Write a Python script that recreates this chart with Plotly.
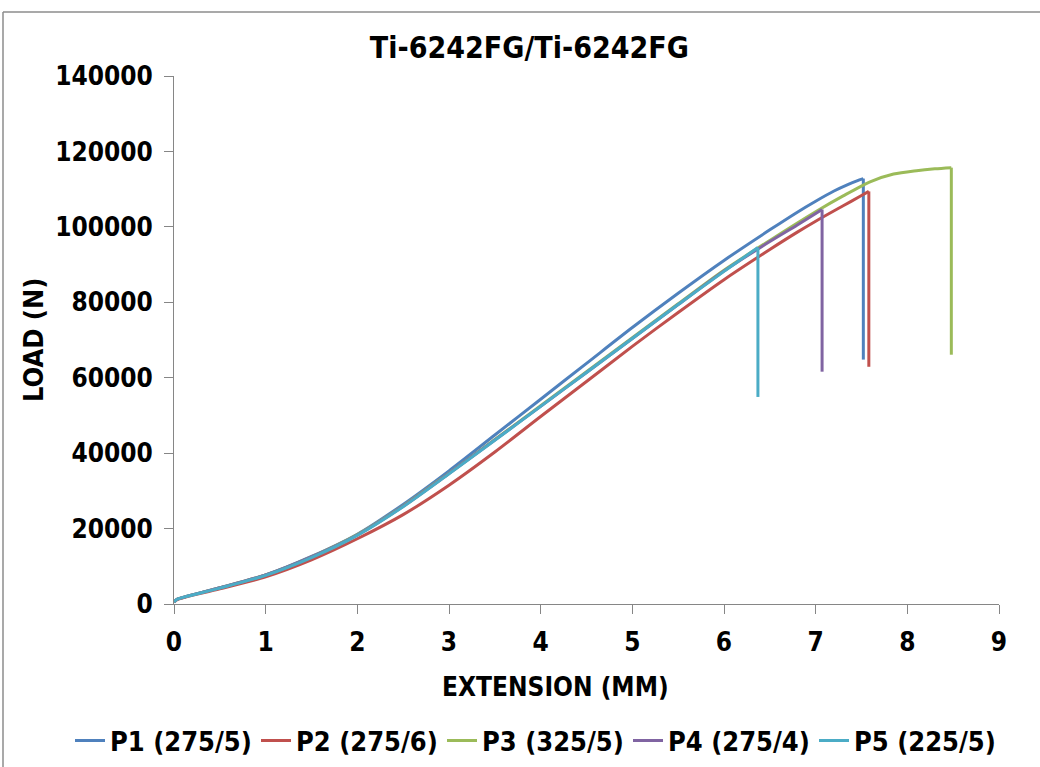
import plotly.graph_objects as go

# Load–extension records for each weld (parameters in parentheses);
# the final pair of values in each list is the fracture drop.
p1_ext = [0, 0.03, 0.12, 0.5, 1.0, 1.5, 2.0, 2.5, 3.0, 3.5, 4.0, 4.5, 5.0, 5.5, 6.0, 6.5, 6.8, 7.0, 7.2, 7.35, 7.45, 7.52, 7.52]
p1_load = [500, 1200, 1900, 4300, 7700, 12600, 18500, 26400, 35300, 44800, 54300, 63800, 73300, 82400, 91100, 99200, 103900, 106800, 109500, 111200, 112200, 112800, 64800]

p2_ext = [0, 0.03, 0.12, 0.5, 1.0, 1.5, 2.0, 2.5, 3.0, 3.5, 4.0, 4.5, 5.0, 5.5, 6.0, 6.5, 6.8, 7.0, 7.3, 7.5, 7.58, 7.58]
p2_load = [500, 1100, 1800, 4000, 7200, 11700, 17300, 23700, 31500, 40300, 49700, 59000, 68300, 77300, 86000, 94000, 98600, 101500, 105600, 108300, 109400, 62900]

p3_ext = [0, 0.03, 0.12, 0.5, 1.0, 1.5, 2.0, 2.5, 3.0, 3.5, 4.0, 4.5, 5.0, 5.5, 6.0, 6.5, 7.0, 7.3, 7.6, 7.85, 8.1, 8.3, 8.48, 8.48]
p3_load = [500, 1200, 1900, 4300, 7700, 12500, 18400, 26000, 34700, 43600, 52600, 61600, 70600, 79600, 88500, 96400, 104000, 108200, 112000, 114000, 114900, 115400, 115700, 66100]

p4_ext = [0, 0.03, 0.12, 0.5, 1.0, 1.5, 2.0, 2.5, 3.0, 3.5, 4.0, 4.5, 5.0, 5.5, 6.0, 6.5, 6.8, 7.07, 7.07]
p4_load = [500, 1200, 1900, 4300, 7700, 12500, 18300, 25900, 34600, 43500, 52400, 61400, 70400, 79400, 88300, 96100, 100500, 104600, 61600]

p5_ext = [0, 0.03, 0.12, 0.5, 1.0, 1.5, 2.0, 2.5, 3.0, 3.5, 4.0, 4.5, 5.0, 5.5, 6.0, 6.2, 6.37, 6.37]
p5_load = [500, 1200, 1900, 4200, 7600, 12300, 18200, 25800, 34500, 43400, 52400, 61400, 70400, 79400, 88200, 91600, 94500, 54900]

series_names = ["P1 (275/5)", "P2 (275/6)", "P3 (325/5)", "P4 (275/4)", "P5 (225/5)"]
series_colors = ["#4F81BD", "#C0504D", "#9BBB59", "#8064A2", "#4BACC6"]

x_ticks = [0, 1, 2, 3, 4, 5, 6, 7, 8, 9]
y_ticks = [0, 20000, 40000, 60000, 80000, 100000, 120000, 140000]

FONT = "DejaVu Sans Condensed, DejaVu Sans, sans-serif"
AXIS_GRAY = "#868686"

fig = go.Figure()
for name, color, xs, ys in zip(
    series_names,
    series_colors,
    [p1_ext, p2_ext, p3_ext, p4_ext, p5_ext],
    [p1_load, p2_load, p3_load, p4_load, p5_load],
):
    # smooth loading curve up to the peak
    fig.add_trace(go.Scatter(
        x=xs[:-1], y=ys[:-1], name=name, mode="lines", legendgroup=name,
        line=dict(color=color, width=3, shape="spline", smoothing=0.8),
    ))
    # straight vertical drop at fracture
    fig.add_trace(go.Scatter(
        x=xs[-2:], y=ys[-2:], name=name, mode="lines", legendgroup=name,
        showlegend=False, line=dict(color=color, width=3),
    ))

axis_common = dict(
    showgrid=False, zeroline=False,
    showline=True, linecolor=AXIS_GRAY, linewidth=1,
    ticks="outside", ticklen=9, tickcolor=AXIS_GRAY, tickwidth=1,
    ticklabelstandoff=6,
    tickfont=dict(family=FONT, size=26, color="#000000", weight="bold"),
)

fig.update_xaxes(range=[0, 9], tickvals=x_ticks, automargin=False, **axis_common)
fig.update_yaxes(range=[0, 140000], tickvals=y_ticks, automargin=False,
                 ticktext=[str(v) for v in y_ticks], **axis_common)

fig.update_layout(
    width=1040, height=767,
    margin=dict(l=174, r=41, t=76, b=163, autoexpand=False),
    paper_bgcolor="white", plot_bgcolor="white",
    title=dict(text="Ti-6242FG/Ti-6242FG", x=0.509, xanchor="center",
               y=1 - 47 / 767, yanchor="middle",
               font=dict(family=FONT, size=30, color="#000000", weight="bold")),
    showlegend=True,
    legend=dict(orientation="h", x=(70 - 174) / 825, xanchor="left",
                y=(604 - 741) / 528, yanchor="middle",
                font=dict(family=FONT, size=27, color="#000000", weight="bold"),
                itemwidth=30, entrywidth=141, entrywidthmode="pixels",
                bgcolor="rgba(0,0,0,0)"),
    annotations=[
        dict(text="LOAD (N)", textangle=-90, xref="paper", yref="paper",
             x=(33 - 174) / 825, y=(604 - 340) / 528, xanchor="center", yanchor="middle",
             showarrow=False,
             font=dict(family=FONT, size=27, color="#000000", weight="bold")),
        dict(text="EXTENSION (MM)", xref="paper", yref="paper",
             x=(555 - 174) / 825, y=(604 - 687) / 528, xanchor="center", yanchor="middle",
             showarrow=False,
             font=dict(family=FONT, size=26, color="#000000", weight="bold")),
    ],
    shapes=[
        # chart-area frame (top and left edges)
        dict(type="line", xref="paper", yref="paper",
             x0=(3 - 174) / 825, x1=(1045 - 174) / 825,
             y0=(604 - 12) / 528, y1=(604 - 12) / 528,
             line=dict(color="#8c8c8c", width=1.5)),
        dict(type="line", xref="paper", yref="paper",
             x0=(3 - 174) / 825, x1=(3 - 174) / 825,
             y0=(604 - 12) / 528, y1=(604 - 775) / 528,
             line=dict(color="#8c8c8c", width=1.5)),
    ],
)

fig.write_html("out.html")
